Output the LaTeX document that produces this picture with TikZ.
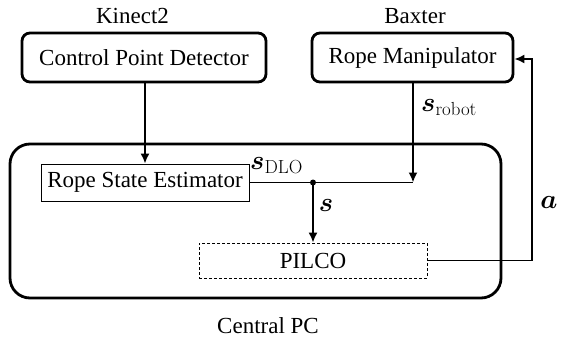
\RequirePackage{fix-cm}
\documentclass[tikz,border=0pt]{standalone}
\usepackage{amsmath,amssymb,bm}
\usepackage[no-math]{fontspec}
\setmainfont{Liberation Serif}
\usetikzlibrary{arrows.meta,calc}
\begin{document}
\begin{tikzpicture}[x=1pt,y=-1pt,
  every node/.style={font=\fontsize{23}{26}\selectfont, inner sep=0pt},
  mathlbl/.style={font=\fontsize{27}{30}\selectfont},
  bigbox/.style={draw, line width=2.8pt, rounded corners=8pt},
  thinbox/.style={draw, line width=0.8pt},
  dashbox/.style={draw, line width=0.8pt, dash pattern=on 3pt off 2pt},
  conn/.style={line width=1.8pt},
  arr/.style={conn, -{Latex[length=10pt,width=9pt]}}]
\useasboundingbox (0,0) rectangle (563,338);
\node[bigbox, minimum width=244pt, minimum height=49pt] (cpd) at (144,57.5) {Control Point Detector};
\node[bigbox, minimum width=201pt, minimum height=49pt] (rm) at (412.5,57.5) {Rope Manipulator};
\node[bigbox, rounded corners=20pt, minimum width=491pt, minimum height=154pt] (pc) at (255.5,221) {};
\node[thinbox, fill=white, minimum width=208pt, minimum height=37pt] (rse) at (145,182.5) {Rope State Estimator};
\node[dashbox, minimum width=228pt, minimum height=35pt] (pilco) at (313,260.5) {PILCO};
\node (kin) at (132.5,16) {Kinect2};
\node (bax) at (415,16) {Baxter};
\node (cpc) at (268,326) {Central PC};
\coordinate (j) at (313,182.5);
\coordinate (m) at (413,182.5);
\coordinate (r) at (532,59);
\coordinate (rmb) at (413,82);
\coordinate (cpdb) at (145,82);
\draw[arr] (cpdb) -- (cpdb |- rse.north);
\draw[arr] (rmb) -- (m);
\draw[conn] (rse.east) -- (m);
\fill (j) circle (3pt);
\draw[arr] (j) -- (pilco.north);
\draw[arr] (pilco.east) -| (r) -- (r -| rm.east);
\node[mathlbl, anchor=base west] (srob) at (421,111) {$\boldsymbol{s}_{\mathrm{robot}}$};
\node[mathlbl, anchor=base west] (sdlo) at (250,169) {$\boldsymbol{s}_{\mathrm{DLO}}$};
\node[mathlbl] (s) at (326,205) {$\boldsymbol{s}$};
\node[mathlbl] (a) at (549,202) {$\boldsymbol{a}$};
\end{tikzpicture}
\end{document}
